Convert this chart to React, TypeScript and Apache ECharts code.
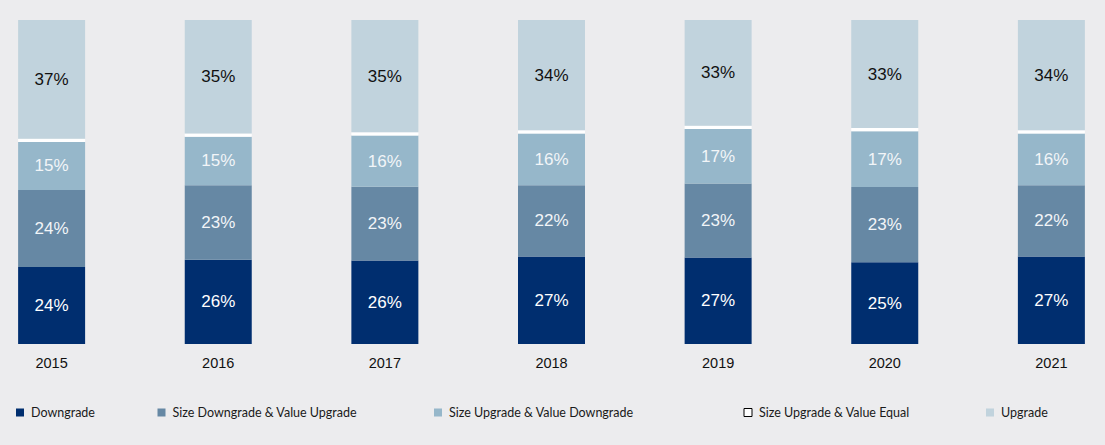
import React, { useEffect, useRef } from "react";
import * as echarts from "echarts";

const categories = ["2015", "2016", "2017", "2018", "2019", "2020", "2021"];
const downgrade = [24, 26, 26, 27, 27, 25, 27];
const sizeDownValueUp = [24, 23, 23, 22, 23, 23, 22];
const sizeUpValueDown = [15, 15, 16, 16, 17, 17, 16];
const sizeUpValueEqual = [1, 1, 1, 1, 1, 1, 1];
const upgrade = [37, 35, 35, 34, 33, 33, 34];

const seriesNames = [
  "Downgrade",
  "Size Downgrade & Value Upgrade",
  "Size Upgrade & Value Downgrade",
  "Size Upgrade & Value Equal",
  "Upgrade",
];
const seriesValues = [downgrade, sizeDownValueUp, sizeUpValueDown, sizeUpValueEqual, upgrade];
const seriesColors = ["#002E6F", "#6688A4", "#96B7CA", "#FFFFFF", "#C1D3DD"];
const labelColors = ["#FFFFFF", "#F2F5F8", "#F2F5F8", "#000000", "#111111"];
const legendLefts = [16, 157.5, 434, 743.5, 986];

export default function App() {
  const ref = useRef<HTMLDivElement>(null);
  useEffect(() => {
    if (!ref.current) return;
    const chart = echarts.init(ref.current, null, { renderer: "svg" });
    const totals = categories.map((_, i) =>
      seriesValues.reduce((s, arr) => s + arr[i], 0)
    );
    const series = seriesNames.map((name, k) => ({
      name,
      type: "bar",
      stack: "total",
      barWidth: 67,
      data: seriesValues[k].map((v, i) => (v / totals[i]) * 100),
      itemStyle: { color: seriesColors[k] },
      label: {
        show: k !== 3,
        position: "inside",
        color: labelColors[k],
        fontSize: 17,
        fontFamily: "Liberation Sans, Arial, sans-serif",
        formatter: (p: any) => seriesValues[k][p.dataIndex] + "%",
      },
    }));
    const legend = seriesNames.map((name, k) => ({
      data: [
        k === 3
          ? { name, itemStyle: { color: "#FFFFFF", borderColor: "#000000", borderWidth: 1 } }
          : { name },
      ],
      left: legendLefts[k],
      top: 406,
      padding: 0,
      icon: "rect",
      itemWidth: 8,
      itemHeight: 8,
      textStyle: {
        fontFamily: "Lato, sans-serif",
        fontSize: 12.5,
        color: "#1A1A1A",
        padding: [0, 0, 0, 2],
      },
    }));
    chart.setOption({
      animation: false,
      backgroundColor: "#ECECEE",
      grid: {
        left: -31.7,
        right: -29.7,
        top: 20,
        bottom: 101,
        containLabel: false,
        outerBoundsMode: "none",
      },
      legend,
      xAxis: {
        type: "category",
        data: categories,
        axisLine: { show: false },
        axisTick: { show: false },
        axisLabel: {
          color: "#111111",
          fontSize: 14.5,
          fontFamily: "Liberation Sans, Arial, sans-serif",
          margin: 11,
        },
      },
      yAxis: {
        type: "value",
        min: 0,
        max: 100,
        show: false,
        splitLine: { show: false },
      },
      series,
    });
    return () => chart.dispose();
  }, []);
  return (
    <div
      ref={ref}
      style={{ position: "absolute", left: 0, top: 0, width: 1105, height: 445 }}
    />
  );
}
